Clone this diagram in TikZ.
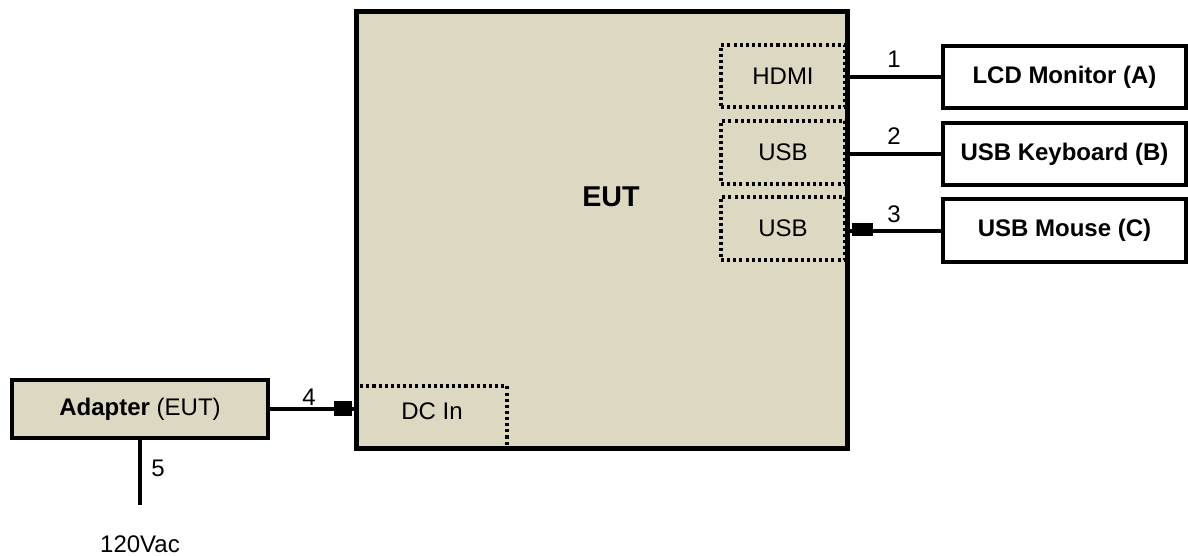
\documentclass[tikz,border=0pt]{standalone}
\usepackage{fontspec}
\setmainfont{Liberation Sans}
\definecolor{eutfill}{RGB}{221,216,194}
\begin{document}
\begin{tikzpicture}[x=0.75pt,y=-0.75pt,
  base/.style={font=\fontsize{18}{20}\selectfont},
  unit/.style={base,draw=black,line width=2.4pt,fill=eutfill,inner sep=0pt},
  periph/.style={base,draw=black,line width=3pt,fill=white,inner sep=0pt,font=\fontsize{18}{20}\selectfont\bfseries},
  port/.style={base,draw=black,line width=2.3pt,dash pattern=on 2.3pt off 2.3pt,inner sep=0pt},
  cable/.style={line width=3pt},
  bead/.style={fill=black,draw=none,inner sep=0pt},
  num/.style={base,inner sep=0pt}]
\useasboundingbox (0,0) rectangle (1188,556);
% EUT
\node[unit,minimum width=490*0.75pt,minimum height=436*0.75pt] (eut) at (602,230) {};
\node[base,font=\fontsize{21.5}{24}\selectfont\bfseries] (euttext) at (611,197) {EUT};
% ports
\node[port,minimum width=124*0.75pt,minimum height=62*0.75pt] (hdmi) at (783,76) {HDMI};
\node[port,minimum width=124*0.75pt,minimum height=63*0.75pt] (usb1) at (783,152.5) {USB};
\node[port,minimum width=124*0.75pt,minimum height=63*0.75pt] (usb2) at (783,228.5) {USB};
\node[port,minimum width=150*0.75pt,minimum height=62*0.75pt] (dcin) at (432,417) {};
\node[base] (dctext) at (432,411) {DC In};
\draw[line width=2.4pt] (eut.north west) rectangle (eut.south east);
% peripherals
\node[periph,minimum width=243*0.75pt,minimum height=62*0.75pt] (lcd) at (1064.5,77.5) {LCD Monitor (A)};
\node[periph,minimum width=243*0.75pt,minimum height=62*0.75pt] (kbd) at (1064.5,154) {USB Keyboard (B)};
\node[periph,minimum width=243*0.75pt,minimum height=63*0.75pt] (mouse) at (1064.5,230.5) {USB Mouse (C)};
% adapter
\node[unit,line width=3pt,minimum width=256*0.75pt,minimum height=58*0.75pt] (adapter) at (140,409) {\textbf{Adapter} (EUT)};
% cables
\draw[cable] (lcd.west -| eut.east) -- (lcd.west);
\draw[cable] (kbd.west -| eut.east) -- (kbd.west);
\draw[cable] (mouse.west -| eut.east) -- (mouse.west);
\draw[cable] (adapter.east) -- (adapter.east -| eut.west);
\coordinate (ac) at (140,505);
\draw[cable] (adapter.south) -- (ac);
% ferrite beads
\node[bead,minimum width=21*0.75pt,minimum height=13*0.75pt] (bead3) at (862,229) {};
\node[bead,minimum width=18*0.75pt,minimum height=15*0.75pt] (bead4) at (343,408) {};
% labels
\node[num] (n1) at (894,59) {1};
\node[num] (n2) at (894,136) {2};
\node[num] (n3) at (894,214) {3};
\node[num] (n4) at (309,397) {4};
\node[num] (n5) at (158,468) {5};
\node[base] (vac) at (140,544) {120Vac};
\end{tikzpicture}
\end{document}
